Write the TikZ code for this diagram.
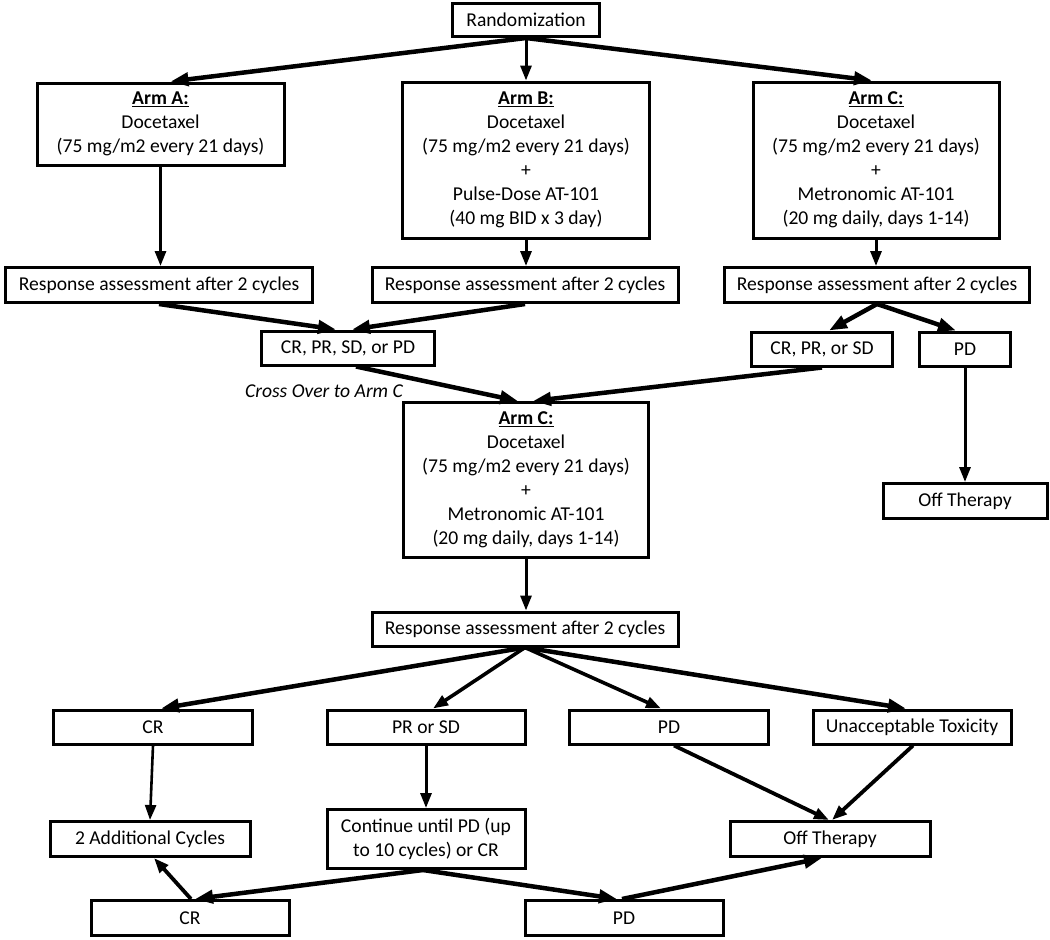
\documentclass[tikz,border=0pt]{standalone}
\usepackage{fontspec}
\setmainfont{Carlito}
\usetikzlibrary{arrows.meta}
\begin{document}
\begin{tikzpicture}[x=1pt,y=-1pt,
  box/.style={draw=black,line width=3pt,fill=white,align=center,inner sep=2pt,
    font=\fontsize{19.6}{24}\selectfont},
  thk/.style={line width=4.5pt,-{Triangle[length=18pt,width=13pt]}},
  mid/.style={line width=3pt,-{Triangle[length=15pt,width=11pt]}},
  lbl/.style={font=\fontsize{19.6}{24}\selectfont\itshape}]
\useasboundingbox (0,0) rectangle (1050,940);
% top
\node[box,minimum width=147pt,minimum height=33pt] (rand) at (526,20) {Randomization};
\node[box,minimum width=247pt,minimum height=82pt] (armA) at (160.5,124) {\underline{\textbf{Arm A:}}\\Docetaxel\\(75 mg/m2 every 21 days)};
\node[box,minimum width=247pt,minimum height=156pt] (armB) at (526,160) {\underline{\textbf{Arm B:}}\\Docetaxel\\(75 mg/m2 every 21 days)\\+\\Pulse-Dose AT-101\\(40 mg BID x 3 day)};
\node[box,minimum width=246pt,minimum height=156pt] (armC) at (876,160) {\underline{\textbf{Arm C:}}\\Docetaxel\\(75 mg/m2 every 21 days)\\+\\Metronomic AT-101\\(20 mg daily, days 1-14)};
\node[box,minimum width=307pt,minimum height=35pt] (respA) at (159,285) {Response assessment after 2 cycles};
\node[box,minimum width=306pt,minimum height=35pt] (respB) at (525,285) {Response assessment after 2 cycles};
\node[box,minimum width=305pt,minimum height=35pt] (respC) at (877,285) {Response assessment after 2 cycles};
\node[box,minimum width=173pt,minimum height=34pt] (anyr) at (348,348) {CR, PR, SD, or PD};
\node[box,minimum width=141pt,minimum height=34pt] (crprsd) at (822,349) {CR, PR, or SD};
\node[box,minimum width=91pt,minimum height=34pt] (pdR) at (965,349) {PD};
\node[lbl] (cross) at (324,391) {Cross Over to Arm C};
\node[box,minimum width=245pt,minimum height=155pt] (armC2) at (526,480) {\underline{\textbf{Arm C:}}\\Docetaxel\\(75 mg/m2 every 21 days)\\+\\Metronomic AT-101\\(20 mg daily, days 1-14)};
\node[box,minimum width=164pt,minimum height=35pt] (offR) at (965,501) {Off Therapy};
\node[box,minimum width=306pt,minimum height=34pt] (respM) at (525,629) {Response assessment after 2 cycles};
\node[box,minimum width=199pt,minimum height=34pt] (crM) at (153,727) {CR};
\node[box,minimum width=198pt,minimum height=34pt] (prsd) at (426,727) {PR or SD};
\node[box,minimum width=199pt,minimum height=34pt] (pdM) at (669,727) {PD};
\node[box,minimum width=198pt,minimum height=34pt] (tox) at (912,727) {Unacceptable Toxicity};
\node[box,minimum width=200pt,minimum height=35pt] (addc) at (150,839) {2 Additional Cycles};
\node[box,minimum width=198pt,minimum height=59pt] (cont) at (426,839) {Continue until PD (up\\to 10 cycles) or CR};
\node[box,minimum width=200pt,minimum height=35pt] (offM) at (830,839) {Off Therapy};
\node[box,minimum width=198pt,minimum height=35pt] (crB) at (190,918) {CR};
\node[box,minimum width=198pt,minimum height=35pt] (pdB) at (624,918) {PD};
% arrows
\draw[thk] (rand.south) -- ([xshift=10pt]armA.north);
\draw[mid] (rand.south) -- (armB.north);
\draw[thk] (rand.south) -- ([xshift=-4pt]armC.north);
\draw[mid] (armA.south) -- (armA.south |- respA.north);
\draw[mid] (armB.south) -- (armB.south |- respB.north);
\draw[mid] (armC.south) -- (armC.south |- respC.north);
\draw[thk] (respA.south) -- ([xshift=-12pt]anyr.north);
\draw[thk] (respB.south) -- ([xshift=4pt]anyr.north);
\draw[thk] (respC.south) -- ([xshift=7pt]crprsd.north);
\draw[thk] (respC.south) -- ([xshift=-9pt]pdR.north);
\draw[thk] ([xshift=8pt]anyr.south) -- ([xshift=-8pt]armC2.north);
\draw[thk] (crprsd.south) -- ([xshift=7pt]armC2.north);
\draw[mid] (pdR.south) -- (pdR.south |- offR.north);
\draw[mid] (armC2.south) -- (armC2.south |- respM.north);
\draw[thk] (respM.south) -- ([xshift=8pt]crM.north);
\draw[mid,line width=3.6pt] (respM.south) -- ([xshift=7pt]prsd.north);
\draw[mid,line width=3.6pt] (respM.south) -- ([xshift=-8pt]pdM.north);
\draw[thk] (respM.south) -- ([xshift=-6pt]tox.north);
\draw[mid,line width=2.6pt] (crM.south) -- (addc.north);
\draw[mid] (prsd.south) -- (prsd.south |- cont.north);
\draw[mid,line width=3.8pt] ([xshift=5pt]pdM.south) -- ([xshift=-1pt]offM.north);
\draw[mid,line width=3.8pt] ([xshift=1pt]tox.south) -- ([xshift=2pt]offM.north);
\draw[thk] ([xshift=-3pt]cont.south) -- ([xshift=5pt]crB.north);
\draw[thk] ([xshift=-3pt]cont.south) -- ([xshift=-7pt]pdB.north);
\draw[mid,line width=3.8pt] ([xshift=1pt]crB.north) -- ([xshift=4pt]addc.south);
\draw[thk] ([xshift=-2pt]pdB.north) -- ([xshift=-8pt]offM.south);
\end{tikzpicture}
\end{document}
